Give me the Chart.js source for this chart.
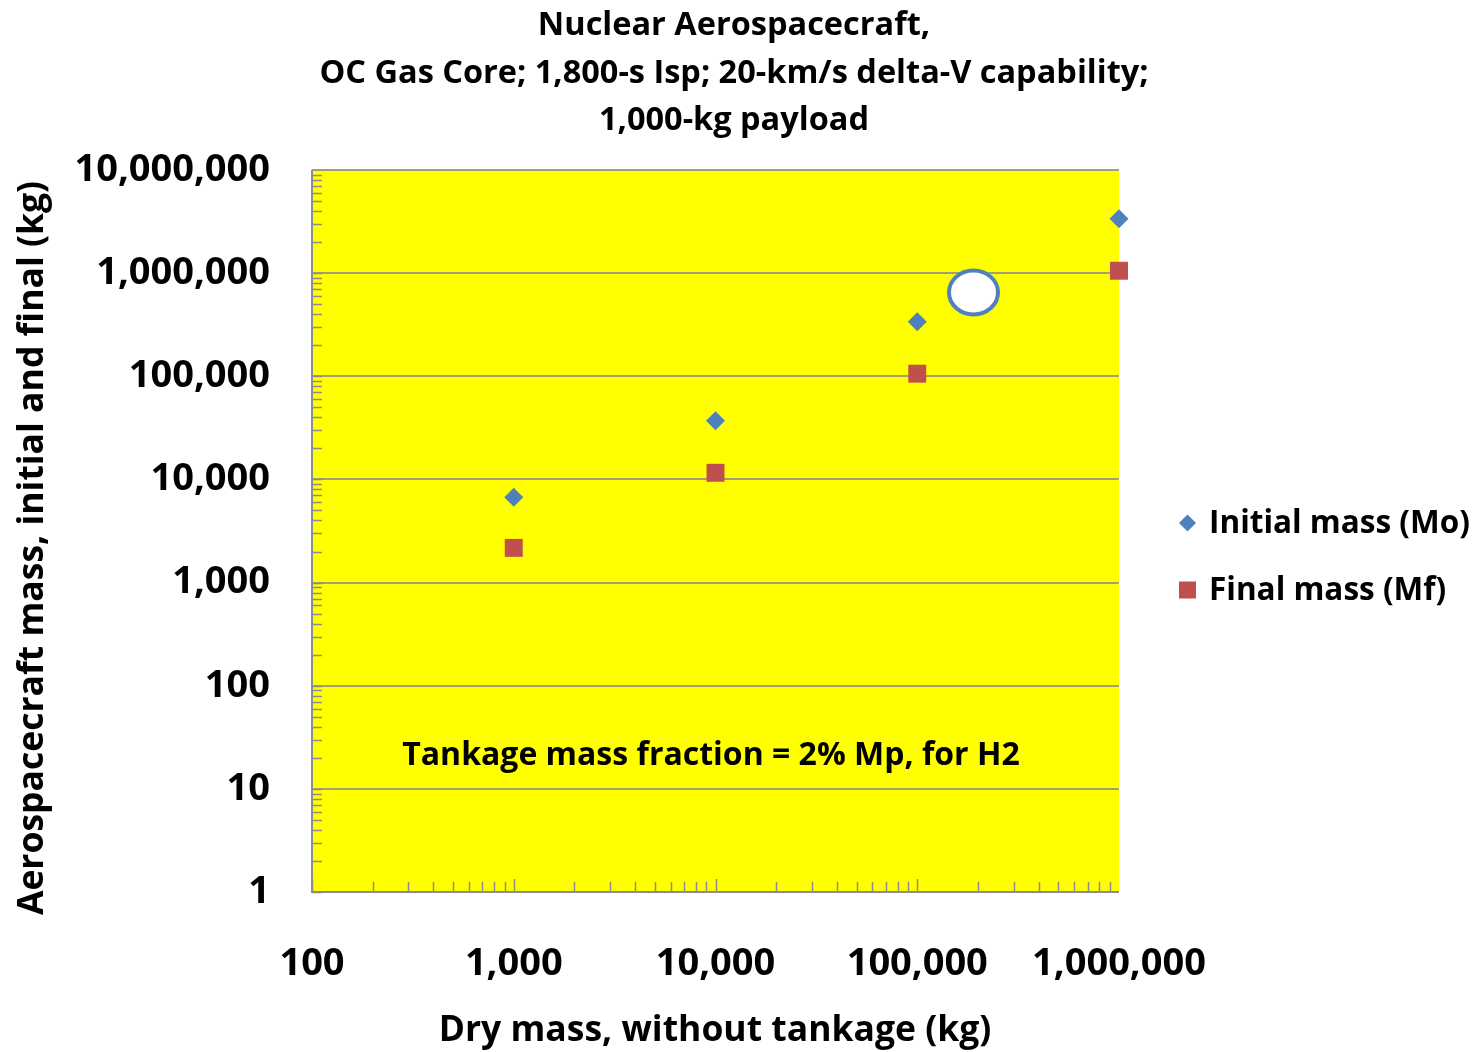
<!DOCTYPE html>
<html>
<head>
<meta charset="utf-8">
<script src="https://cdn.jsdelivr.net/npm/chart.js@4/dist/chart.umd.min.js"></script>
<style>
html,body{margin:0;padding:0;background:#fff;}
#wrap{width:1480px;height:1052px;position:relative;}
</style>
</head>
<body>
<div id="wrap"><canvas id="c" width="1480" height="1052"></canvas></div>
<script>
// ---- data ----
const dryMass = [1000, 10000, 100000, 1000000];
const initialMass = [6700, 37000, 338000, 3370000];
const finalMass = [2170, 11600, 106000, 1055000];
const seriesNames = ['Initial mass (Mo)', 'Final mass (Mf)'];
const titleLines = ['Nuclear Aerospacecraft,', 'OC Gas Core; 1,800-s Isp; 20-km/s delta-V capability;', '1,000-kg payload'];
const xTitle = 'Dry mass, without tankage (kg)';
const yTitle = 'Aerospacecraft mass, initial and final (kg)';
const noteText = 'Tankage mass fraction = 2% Mp, for H2';
const noteAt = [8000, 21];          // data position of note (x, y)
const ellipseAt = [190000, 650000]; // data position of highlighted circle
const xTicks = [100, 1000, 10000, 100000, 1000000];
const yTicks = [1, 10, 100, 1000, 10000, 100000, 1000000, 10000000];

const FONT = '"Open Sans", sans-serif';
const BLUE = '#4F81BD', RED = '#C0504D';

const decorPlugin = {
  id: 'decor',
  beforeDatasetsDraw(chart) {
    const {ctx, chartArea: a, scales: {x, y}} = chart;
    ctx.save();
    ctx.strokeStyle = '#8c8c8c';
    ctx.lineWidth = 1.5;
    for (let d = 1; d < 1e7; d *= 10) {
      for (let m = 1; m <= 9; m++) {
        const py = Math.round(y.getPixelForValue(d * m)) + 0.5;
        ctx.beginPath(); ctx.moveTo(a.left, py); ctx.lineTo(a.left + 10, py); ctx.stroke();
      }
    }
    for (let d = 100; d < 1e6; d *= 10) {
      for (let m = 1; m <= 9; m++) {
        const px = Math.round(x.getPixelForValue(d * m)) + 0.5;
        const len = m === 1 ? 13 : 10;
        ctx.beginPath(); ctx.moveTo(px, a.bottom); ctx.lineTo(px, a.bottom - len); ctx.stroke();
      }
    }
    ctx.strokeStyle = '#8c8c8c';
    ctx.lineWidth = 2;
    ctx.beginPath(); ctx.moveTo(a.left, a.top); ctx.lineTo(a.left, a.bottom); ctx.lineTo(a.right, a.bottom); ctx.stroke();
    ctx.fillStyle = '#000';
    ctx.font = 'bold 32px ' + FONT;
    ctx.textAlign = 'center'; ctx.textBaseline = 'middle';
    ctx.fillText(noteText, 711, y.getPixelForValue(noteAt[1]));
    const ex = x.getPixelForValue(ellipseAt[0]), ey = y.getPixelForValue(ellipseAt[1]);
    ctx.beginPath(); ctx.ellipse(ex, ey, 24.5, 22, 0, 0, Math.PI * 2);
    ctx.fillStyle = '#fff'; ctx.fill();
    ctx.strokeStyle = BLUE; ctx.lineWidth = 4; ctx.stroke();
    ctx.restore();
  },
  afterDraw(chart) {
    const {ctx} = chart;
    ctx.save();
    ctx.fillStyle = '#000';
    ctx.textAlign = 'center'; ctx.textBaseline = 'middle';
    ctx.font = 'bold 32.5px ' + FONT;
    titleLines.forEach((t, i) => ctx.fillText(t, 734, 26 + i * 47.5));
    ctx.font = 'bold 35.5px ' + FONT;
    ctx.fillText(xTitle, 715, 1031);
    ctx.save();
    ctx.translate(33, 548); ctx.rotate(-Math.PI / 2);
    ctx.fillText(yTitle, 0, 0);
    ctx.restore();
    ctx.textAlign = 'left';
    ctx.font = 'bold 31.5px ' + FONT;
    const items = [[523, 'rectRot', BLUE], [590, 'rect', RED]];
    items.forEach(([ly, st, col], i) => {
      ctx.fillStyle = col;
      if (st === 'rect') ctx.fillRect(1179, ly - 8.5, 17, 17);
      else { ctx.beginPath(); ctx.moveTo(1187.5, ly - 8.5); ctx.lineTo(1196, ly); ctx.lineTo(1187.5, ly + 8.5); ctx.lineTo(1179, ly); ctx.closePath(); ctx.fill(); }
      ctx.fillStyle = '#000';
      ctx.fillText(seriesNames[i], 1209, ly + 1);
    });
    ctx.restore();
  }
};

const bgPlugin = {
  id: 'bg',
  beforeDraw(chart) {
    const {ctx, chartArea: a} = chart;
    ctx.save();
    ctx.fillStyle = '#FFFF00';
    ctx.fillRect(a.left, a.top, a.right - a.left, a.bottom - a.top);
    ctx.restore();
  }
};

new Chart(document.getElementById('c'), {
  type: 'scatter',
  data: {
    datasets: [
      { label: seriesNames[0], data: dryMass.map((v, i) => ({x: v, y: initialMass[i]})), clip: false,
        pointStyle: 'rectRot', pointRadius: 9.5, pointHoverRadius: 9.5, backgroundColor: BLUE, borderColor: BLUE, borderWidth: 0 },
      { label: seriesNames[1], data: dryMass.map((v, i) => ({x: v, y: finalMass[i]})), clip: false,
        pointStyle: 'rect', pointRadius: 12.7, pointHoverRadius: 12.7, backgroundColor: RED, borderColor: RED, borderWidth: 0 }
    ]
  },
  options: {
    responsive: false,
    animation: false,
    layout: { padding: { top: 170, right: 361, left: 0, bottom: 0 } },
    plugins: { legend: { display: false }, tooltip: { enabled: false }, title: { display: false } },
    scales: {
      x: {
        type: 'logarithmic', min: 100, max: 1000000,
        afterBuildTicks: s => { s.ticks = xTicks.map(v => ({value: v, major: true})); },
        afterFit: s => { s.height = 160; },
        grid: { display: false, drawTicks: false },
        border: { display: false },
        ticks: { autoSkip: false, maxRotation: 0, padding: 49, color: '#000',
          font: { family: FONT, size: 38, weight: 'bold' },
          callback: v => Number(v).toLocaleString('en-US') }
      },
      y: {
        type: 'logarithmic', min: 1, max: 10000000,
        afterBuildTicks: s => { s.ticks = yTicks.map(v => ({value: v, major: true})); },
        afterFit: s => { s.width = 312; },
        grid: { color: '#a0a070', lineWidth: 2, drawTicks: false },
        border: { display: false },
        ticks: { autoSkip: false, padding: 42, color: '#000',
          font: { family: FONT, size: 38, weight: 'bold' },
          callback: v => Number(v).toLocaleString('en-US') }
      }
    }
  },
  plugins: [bgPlugin, decorPlugin]
});
</script>
</body>
</html>
